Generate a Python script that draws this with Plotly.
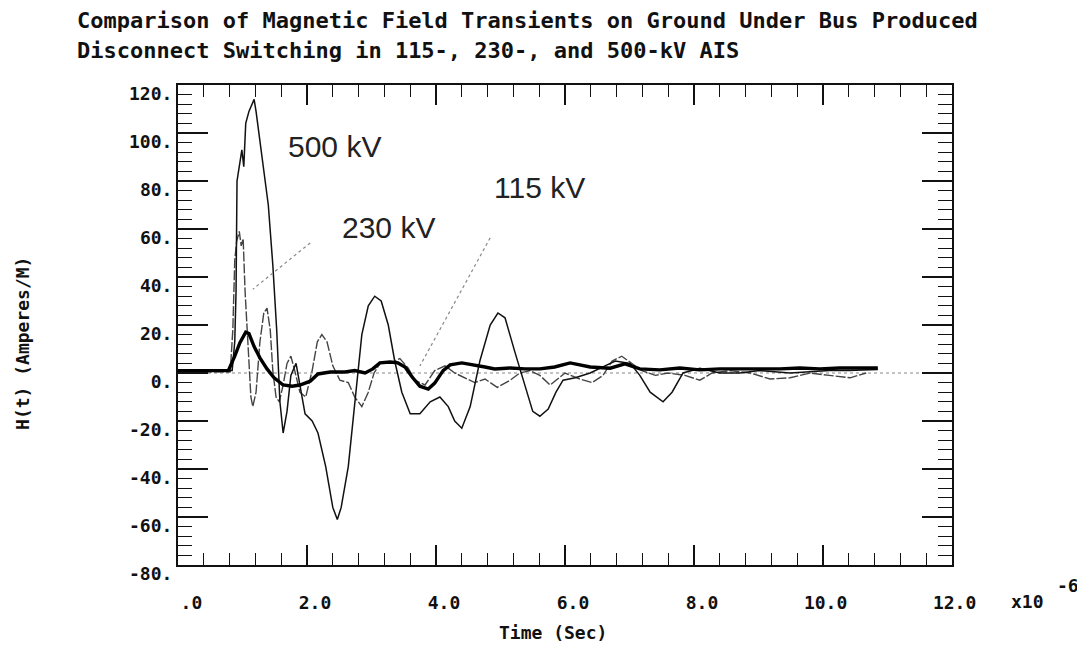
import plotly.graph_objects as go

# ---------------- data (time in microseconds, H in A/m) ----------------
t_500 = [0.0, 0.84, 0.88, 0.90, 0.915, 0.96, 0.99, 1.02, 1.05, 1.10, 1.18, 1.21, 1.30, 1.40, 1.47,
         1.53, 1.58, 1.63, 1.69, 1.75, 1.83, 1.89, 1.97, 2.08, 2.17, 2.29, 2.40, 2.47, 2.53, 2.64,
         2.74, 2.85, 2.95, 3.05, 3.15, 3.26, 3.36, 3.47, 3.60, 3.75, 3.91, 4.06, 4.19, 4.29, 4.40,
         4.53, 4.68, 4.84, 4.96, 5.07, 5.22, 5.38, 5.50, 5.61, 5.74, 5.86, 5.97, 6.16, 6.39, 6.62,
         6.78, 7.01, 7.16, 7.32, 7.52, 7.66, 7.83, 8.09, 8.40, 8.71, 9.02, 9.49, 10.1, 10.4, 10.85]
h_500 = [1, 1, 13, 34, 80, 87, 93, 86, 104, 109, 114, 109, 91, 70, 45,
         18, -12, -25, -16, -1, 4, -5, -17, -20, -25, -39, -56, -61, -56, -39,
         -12, 16, 28, 32, 30, 20, 5, -8, -17, -17, -12, -10, -14, -20, -23,
         -14, 5, 20, 25, 23, 9, -5, -16, -18, -15, -8, -3, -2, 0, 3,
         5, 4, -1, -8, -12, -8, 0, 2, 0, 0, 1, 0, 1, 1, 1.5]

t_230 = [0.0, 0.81, 0.85, 0.88, 0.91, 0.95, 0.98, 1.01, 1.04, 1.09, 1.13, 1.16, 1.21, 1.27, 1.33,
         1.38, 1.43, 1.47, 1.52, 1.57, 1.63, 1.69, 1.75, 1.81, 1.89, 1.98, 2.08, 2.16, 2.23, 2.31,
         2.40, 2.51, 2.64, 2.74, 2.85, 2.95, 3.04, 3.13, 3.29, 3.44, 3.57, 3.67, 3.83, 3.98, 4.14,
         4.29, 4.45, 4.60, 4.76, 4.95, 5.15, 5.30, 5.46, 5.61, 5.77, 6.00, 6.23, 6.42, 6.59, 6.73,
         6.88, 7.04, 7.19, 7.40, 7.60, 7.86, 8.09, 8.28, 8.56, 8.87, 9.18, 9.49, 9.80, 10.1, 10.42, 10.67]
h_230 = [0.5, 0.5, 18, 47, 55, 59, 53, 56, 34, 9, -10, -14, -8, 13, 25,
         27, 18, 1, -10, -12, -5, 4, 7, 1, -8, -10, 1, 13, 16, 13,
         3, -3, -4, -10, -14, -8, 0, 4, 4, 6, 2, -3, -5, 1, 3,
         0, -2, -4, -2.5, -6, -3, 0, 1, -1, -5, 0, -2.5, -4, -1, 5,
         7, 4, 1, -1, 0, -1, -3, 0, 1, 0, -2.5, -2, 0, -1, -2, 0]

t_115 = [0.0, 0.78, 0.88, 0.96, 1.05, 1.10, 1.18, 1.27, 1.38, 1.49, 1.63, 1.77, 1.89, 2.05, 2.17,
         2.36, 2.59, 2.74, 2.90, 3.02, 3.13, 3.29, 3.41, 3.52, 3.63, 3.75, 3.88, 3.98, 4.11, 4.22,
         4.40, 4.60, 4.76, 4.91, 5.15, 5.38, 5.61, 5.84, 6.08, 6.39, 6.70, 6.93, 7.16, 7.47, 7.78,
         8.09, 8.40, 8.71, 9.02, 9.33, 9.64, 9.95, 10.26, 10.57, 10.85]
h_115 = [1, 1, 7, 12.6, 17, 16.4, 11, 6.3, 1.7, -2, -5, -5.5, -5, -3.4, -0.4,
         0.4, 0.4, 1, 0, 1.7, 4.2, 4.6, 4.2, 2.5, -1.7, -5.5, -6.7, -4.2, 1, 3.4,
         4.2, 3.4, 2.5, 1.7, 2.1, 1.7, 1.7, 2.5, 4.2, 2.5, 2, 3.8, 1.7, 1.3, 2.1,
         1.3, 1.7, 1.7, 1.7, 1.7, 2.1, 1.7, 2.1, 2.1, 2.1]

x_tickvals = [0, 2, 4, 6, 8, 10, 12]
x_ticktext = [".0", "2.0", "4.0", "6.0", "8.0", "10.0", "12.0"]
y_tickvals = [120, 100, 80, 60, 40, 20, 0, -20, -40, -60, -80]
y_ticktext = ["120.", "100.", "80.", "60.", "40.", "20.", "0.", "-20.", "-40.", "-60.", "-80."]

series_labels = ["500 kV", "230 kV", "115 kV"]
label_pos_t = [2.43, 3.26, 5.61]
label_pos_h = [94.5, 60.5, 77.3]

MONO = "DejaVu Sans Mono"

fig = go.Figure()
fig.add_trace(go.Scatter(x=[0, 12], y=[0, 0], mode="lines",
                         line=dict(color="#888", width=1.2, dash="dot"), hoverinfo="skip"))
fig.add_trace(go.Scatter(x=t_230, y=h_230, mode="lines", name="230 kV",
                         line=dict(color="#444", width=1.4, dash="10px,2px")))
fig.add_trace(go.Scatter(x=t_500, y=h_500, mode="lines", name="500 kV",
                         line=dict(color="#111", width=1.5)))
fig.add_trace(go.Scatter(x=t_115, y=h_115, mode="lines", name="115 kV",
                         line=dict(color="#000", width=3.4)))

# leader lines for labels
fig.add_shape(type="line", x0=2.05, y0=54.2, x1=1.16, y1=34.9,
              line=dict(color="#888", width=1.2, dash="dot"))
fig.add_shape(type="line", x0=4.84, y0=56.3, x1=3.75, y1=2.9,
              line=dict(color="#888", width=1.2, dash="dot"))

for lab, tx, hy in zip(series_labels, label_pos_t, label_pos_h):
    fig.add_annotation(x=tx, y=hy, text=lab, showarrow=False, xanchor="center", yanchor="middle",
                       font=dict(family="Liberation Sans", size=30, color="#222"))

title_font = dict(family=MONO, size=22, color="#111", weight="bold")
fig.add_annotation(xref="paper", yref="paper", x=-0.1331, y=1.1354, xanchor="left", yanchor="middle",
                   text="Comparison of Magnetic Field Transients on Ground Under Bus Produced",
                   showarrow=False, font=title_font)
fig.add_annotation(xref="paper", yref="paper", x=-0.1331, y=1.0729, xanchor="left", yanchor="middle",
                   text="Disconnect Switching in 115-, 230-, and 500-kV AIS",
                   showarrow=False, font=title_font)

lab_font = dict(family=MONO, size=18, color="#111", weight="bold")
fig.add_annotation(xref="paper", yref="paper", x=0.4845, y=-0.1396, text="Time (Sec)",
                   xanchor="center", yanchor="middle", showarrow=False, font=lab_font)
fig.add_annotation(xref="paper", yref="paper", x=-0.2016, y=0.4625, text="H(t) (Amperes/M)",
                   xanchor="center", yanchor="middle", textangle=-90, showarrow=False, font=lab_font)
fig.add_annotation(xref="paper", yref="paper", x=1.097, y=-0.077, text="x10",
                   xanchor="center", yanchor="middle", showarrow=False, font=lab_font)
fig.add_annotation(xref="paper", yref="paper", x=1.150, y=-0.0417, text="-6",
                   xanchor="center", yanchor="middle", showarrow=False, font=lab_font)

axis_common = dict(showgrid=False, zeroline=False, showline=True, linecolor="#111", linewidth=2,
                   mirror="allticks", ticks="inside", tickcolor="#111", tickwidth=1.5)

fig.update_xaxes(range=[0, 12], tickvals=x_tickvals, ticktext=x_ticktext, ticklen=20,
                 minor=dict(dtick=0.4, tick0=0, ticklen=12, ticks="inside", tickcolor="#111", tickwidth=1.3),
                 tickfont=lab_font, ticklabelposition="outside left", ticklabelshift=26,
                 ticklabelstandoff=20, **axis_common)
fig.update_yaxes(range=[-80, 120], tickvals=y_tickvals, ticktext=y_ticktext, ticklen=30,
                 minor=dict(dtick=4, tick0=0, ticklen=14, ticks="inside", tickcolor="#111", tickwidth=1.3),
                 tickfont=lab_font, ticklabelshift=9, ticklabelstandoff=0, **axis_common)

# page body has an 8px margin, so the figure is sized/offset to compensate
fig.update_layout(width=1077, height=644, margin=dict(l=170, r=133, t=77, b=87),
                  plot_bgcolor="white", paper_bgcolor="white", showlegend=False)

fig.write_html("out.html")
